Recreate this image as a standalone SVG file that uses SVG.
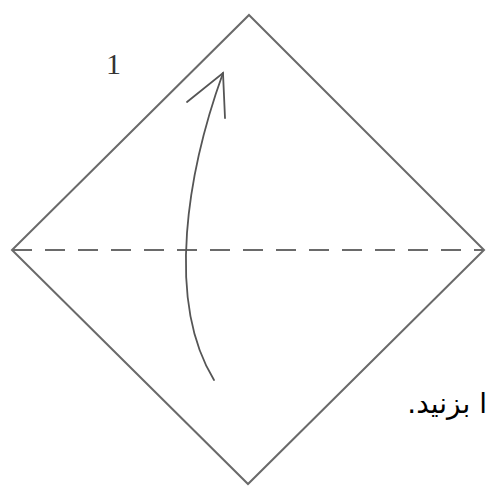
<svg xmlns="http://www.w3.org/2000/svg" width="488" height="487" viewBox="0 0 488 487">
<style>
.edge{fill:none;stroke:#6a6a6a;stroke-width:2;stroke-linejoin:miter}
.fold{fill:none;stroke:#6a6a6a;stroke-width:2;stroke-dasharray:20 13}
.arrow{fill:none;stroke:#555;stroke-width:1.8;stroke-linecap:round;stroke-linejoin:miter}
.num{font-family:"Liberation Serif",serif;font-size:30px;fill:#333}
.cap{font-family:"DejaVu Sans","Noto Sans",sans-serif;font-size:28px;fill:#000}
</style>
<rect width="488" height="487" fill="#fff"/>
<g id="paper">
<polygon class="edge" points="249,15 484,250 248,484 12,250"/>
</g>
<g id="connectors">
<line class="fold" x1="12" y1="250" x2="484" y2="250"/>
<path class="arrow" d="M214,380 C165,300 188,170 223,73"/>
<path class="arrow" d="M187,102 L223,73 L225,118"/>
</g>
<g id="label">
<text class="num" x="106" y="74">1</text>
</g>
<g id="caption">
<text class="cap" x="487" y="413" direction="rtl" unicode-bidi="embed" text-anchor="start">ا بزنید.</text>
</g>
</svg>
